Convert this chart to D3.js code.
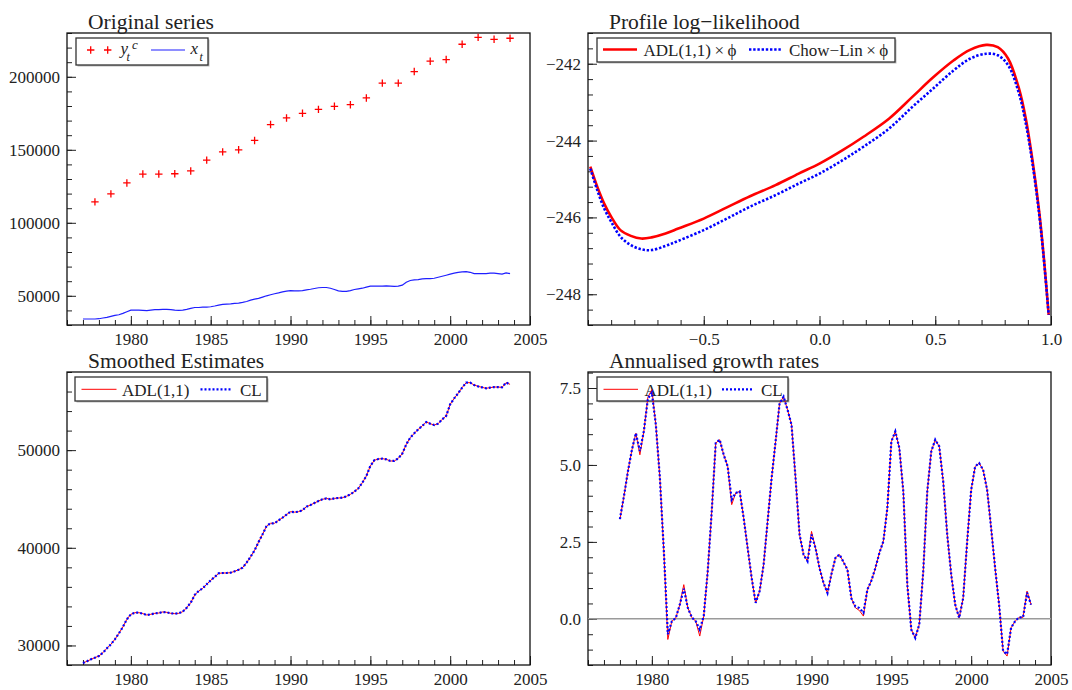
<!DOCTYPE html>
<html><head><meta charset="utf-8">
<script src="https://cdn.jsdelivr.net/npm/d3@7"></script>
<style>
body{margin:0;background:#fff}
svg{display:block}
text{font-family:"Liberation Serif","Times New Roman",serif;fill:#222}
</style>
</head><body>
<svg id="c" width="1072" height="690"></svg>
<script>
// ---------------- DATA ----------------
// Panel 1: annual y_t^c (plotted at Q4 of each year) and quarterly x_t
const annualYears = d3.range(1977, 2004);
const ycValues = [114300,119800,127300,133400,133400,133600,135500,142950,148600,150000,
  156400,167300,171800,175000,177700,179800,180900,185500,195700,195700,
  203600,210700,211800,222300,227000,225700,226400];
const quarterDates = d3.range(108).map(i => 1977 + i / 4);
const xtValues = [
  34100,34100,34100,34100, 34300,34800,35200,35900, 36600,37000,38000,39100,
  40200,40200,40200,40000, 39800,40200,40500,40500, 40700,40700,40500,40200,
  40000,40200,40700,41400, 42000,42000,42300,42300, 42500,43000,43600,44100,
  44300,44500,44800,45000, 45500,46100,47000,47700, 48200,49100,50000,50700,
  51400,52000,52700,53200, 53600,53400,53400,53600, 54100,54500,55000,55500,
  55700,55700,55200,54300, 53400,53000,53000,53600, 54300,54800,55200,55900,
  56600,56600,56600,56600, 56800,56600,56400,56600, 57300,59300,60500,60900,
  61100,61600,61800,61800, 62000,62700,63400,64100, 64800,65500,66100,66400,
  66600,66100,65200,65200, 65200,65200,65500,65500, 65200,64800,65700,65200];

// Panel 2: profile log-likelihood
const phiGrid = [-0.99,-0.96,-0.93,-0.90,-0.86,-0.815,-0.77,-0.725,-0.665,-0.61,-0.50,-0.40,
  -0.30,-0.19,-0.09,0.0,0.10,0.19,0.30,0.40,0.49,0.58,0.65,0.72,0.77,0.815,0.86,0.89,0.92,0.95,0.97,0.99];
const llADL = [-244.68,-245.2,-245.64,-245.98,-246.33,-246.48,-246.55,-246.52,-246.42,-246.29,
  -246.03,-245.74,-245.45,-245.16,-244.86,-244.6,-244.25,-243.9,-243.43,-242.87,-242.36,-241.91,
  -241.64,-241.51,-241.57,-241.87,-242.61,-243.39,-244.51,-245.9,-247.11,-248.54];
const llCL = [-244.73,-245.29,-245.77,-246.11,-246.5,-246.72,-246.83,-246.85,-246.74,-246.61,
  -246.33,-246.03,-245.72,-245.42,-245.12,-244.86,-244.51,-244.16,-243.69,-243.13,-242.65,-242.17,
  -241.87,-241.74,-241.78,-242.04,-242.74,-243.52,-244.6,-245.97,-247.15,-248.54];

// Panel 3: smoothed estimates (quarterly)
const smoothADL = [
  28205,28375,28580,28750, 28920,29260,29710,30120, 30630,31240,31890,32680,
  33190,33360,33360,33260, 33120,33190,33290,33320, 33430,33390,33290,33260,
  33290,33460,33870,34380, 35170,35580,35850,36260, 36670,37010,37390,37420,
  37420,37450,37590,37760, 37970,38480,39090,39740, 40590,41380,42230,42510,
  42510,42810,43090,43390, 43700,43650,43700,43850, 44210,44380,44590,44790,
  44960,45060,44960,45060, 45100,45130,45270,45470, 45750,46090,46670,47350,
  48375,48960,49090,49130, 49060,48890,48890,49160, 49640,50590,51280,51720,
  52130,52470,52880,52710, 52570,52710,53150,53500, 54690,55300,55820,56400,
  56910,56910,56670,56530, 56430,56330,56400,56460, 56460,56430,56910,56740];
const smoothCL = [
  28205,28375,28580,28750, 28920,29260,29710,30120, 30630,31240,31890,32680,
  33190,33360,33360,33260, 33120,33190,33290,33320, 33430,33390,33290,33260,
  33290,33460,33870,34380, 35170,35580,35850,36260, 36670,37010,37390,37420,
  37420,37450,37590,37760, 37970,38480,39090,39740, 40590,41380,42230,42510,
  42510,42810,43090,43390, 43700,43650,43700,43850, 44210,44380,44590,44790,
  44960,45060,44960,45060, 45100,45130,45270,45470, 45750,46090,46670,47350,
  48375,48960,49090,49130, 49060,48890,48890,49160, 49640,50590,51280,51720,
  52130,52470,52880,52710, 52570,52710,53150,53500, 54690,55300,55820,56400,
  56910,56910,56670,56530, 56430,56330,56400,56460, 56460,56430,56910,56740];

// Panel 4: annualised growth rates (quarterly from 1978Q1)
const growthDates = d3.range(104).map(i => 1978 + i / 4);
const growthADL = [
  3.24,3.98,4.79,5.49, 6.03,5.33,6.1,7.2, 7.45,6.3,4.6,2.2,
  -0.67,-0.08,0.03,0.46, 1.11,0.36,0.05,-0.08, -0.56,0.09,1.55,3.49,
  5.71,5.82,5.33,4.95, 3.71,4.09,4.14,3.28, 2.30,1.33,0.52,0.9,
  1.76,3.17,4.57,5.76, 7.0,7.22,6.79,6.3, 4.57,2.74,2.09,1.87,
  2.84,2.30,1.65,1.17, 0.84,1.46,1.98,2.09, 1.85,1.6,0.66,0.36,
  0.27,0.09,0.95,1.24, 1.65,2.14,2.52,3.6, 5.76,6.09,5.55,4.14,
  1.11,-0.35,-0.62,-0.18, 1.55,4.14,5.44,5.82, 5.6,4.46,2.74,1.44,
  0.46,0.03,0.68,2.52, 4.19,4.95,5.06,4.84, 4.19,2.95,1.65,0.46,
  -1.05,-1.21,-0.29,-0.08, 0.05,0.05,0.9,0.46];
const growthCL = [
  3.24,3.98,4.79,5.49, 6.03,5.45,6.1,7.15, 7.35,6.3,4.6,2.2,
  -0.5,-0.08,0.03,0.46, 0.98,0.36,0.05,-0.08, -0.35,0.09,1.55,3.49,
  5.71,5.82,5.33,4.95, 3.87,4.09,4.14,3.28, 2.30,1.33,0.52,0.9,
  1.76,3.17,4.57,5.76, 7.0,7.22,6.79,6.3, 4.57,2.74,2.09,1.87,
  2.74,2.30,1.65,1.17, 0.84,1.46,1.98,2.09, 1.85,1.6,0.66,0.4,
  0.35,0.2,0.95,1.24, 1.65,2.14,2.52,3.6, 5.76,6.09,5.55,4.14,
  1.11,-0.35,-0.62,-0.18, 1.55,4.14,5.44,5.82, 5.6,4.46,2.74,1.44,
  0.46,0.03,0.68,2.52, 4.19,4.95,5.06,4.84, 4.19,2.95,1.65,0.46,
  -1.05,-1.15,-0.29,-0.08, 0.05,0.05,0.85,0.46];

// Ticks
const yearMinor = d3.range(1976, 2006);
const yearMajor = [1980, 1985, 1990, 1995, 2000, 2005];
const p1YMajor = [50000, 100000, 150000, 200000];
const p1YMinor = d3.range(30000, 230001, 10000);
const p2XMajor = [-0.5, 0.0, 0.5, 1.0];
const p2XMinor = d3.range(-10, 11).map(i => i / 10);
const p2YMajor = [-248, -246, -244, -242];
const p2YMinor = d3.range(-2488, -2411, 4).map(v => v / 10);
const p3YMajor = [30000, 40000, 50000];
const p3YMinor = d3.range(28000, 58001, 2000);
const p4YMajor = [0, 2.5, 5.0, 7.5];
const p4YMinor = d3.range(-3, 17).map(i => i / 2);

// ---------------- DRAWING ----------------
const svg = d3.select('#c');
const L = {x0: 67, x1: 530}, R = {x0: 588, x1: 1051};
const T = {y0: 33, y1: 325}, B = {y0: 372, y1: 665};

function panel(opt) {
  const g = svg.append('g');
  const x = d3.scaleLinear().domain(opt.xDomain).range([opt.h.x0, opt.h.x1]);
  const y = d3.scaleLinear().domain(opt.yDomain).range([opt.v.y1, opt.v.y0]);
  const id = 'clip' + opt.name;
  svg.append('clipPath').attr('id', id).append('rect')
    .attr('x', opt.h.x0).attr('y', opt.v.y0)
    .attr('width', opt.h.x1 - opt.h.x0).attr('height', opt.v.y1 - opt.v.y0);
  const ax = (axis, tr) => {
    const a = g.append('g').attr('transform', tr).call(axis);
    a.select('.domain').remove();
    a.selectAll('line').attr('stroke', '#222').attr('stroke-width', 1);
    a.selectAll('text').style('font-size', '17px').attr('fill', '#222')
      .style('font-family', '"Liberation Serif","Times New Roman",serif');
    return a;
  };
  ax(d3.axisBottom(x).tickValues(opt.xMinor).tickSize(-5).tickFormat(''), `translate(0,${opt.v.y1})`);
  ax(d3.axisBottom(x).tickValues(opt.xMajor).tickSize(-9).tickPadding(8).tickFormat(opt.xFmt), `translate(0,${opt.v.y1})`);
  ax(d3.axisLeft(y).tickValues(opt.yMinor).tickSize(-5).tickFormat(''), `translate(${opt.h.x0},0)`);
  ax(d3.axisLeft(y).tickValues(opt.yMajor).tickSize(-9).tickPadding(7).tickFormat(opt.yFmt), `translate(${opt.h.x0},0)`);
  g.append('rect').attr('x', opt.h.x0).attr('y', opt.v.y0)
    .attr('width', opt.h.x1 - opt.h.x0).attr('height', opt.v.y1 - opt.v.y0)
    .attr('fill', 'none').attr('stroke', '#111').attr('stroke-width', 1.3);
  g.append('text').attr('x', opt.h.x0 + 21).attr('y', opt.v.y0 - 4)
    .style('font-size', '21.5px').text(opt.title);
  const plot = g.append('g').attr('clip-path', `url(#${id})`);
  return {g, plot, x, y};
}

function legendBox(g, x0, y0, x1, y1) {
  g.append('rect').attr('x', x0 + 1.5).attr('y', y0 + 1.5).attr('width', x1 - x0).attr('height', y1 - y0)
    .attr('fill', '#bbb');
  g.append('rect').attr('x', x0).attr('y', y0).attr('width', x1 - x0).attr('height', y1 - y0)
    .attr('fill', '#fff').attr('stroke', '#333').attr('stroke-width', 1.3);
}

// ---- Panel 1 ----
{
  const p = panel({name: 'a', h: L, v: T, xDomain: [1976, 2005], yDomain: [30000, 230000],
    xMinor: yearMinor, xMajor: yearMajor, xFmt: d3.format('d'),
    yMinor: p1YMinor, yMajor: p1YMajor, yFmt: d3.format('d'), title: 'Original series'});
  p.plot.append('path').datum(quarterDates.map((d, i) => [d, xtValues[i]]))
    .attr('fill', 'none').attr('stroke', '#1f1fff').attr('stroke-width', 1.2)
    .attr('d', d3.line().x(d => p.x(d[0])).y(d => p.y(d[1])));
  p.plot.selectAll('path.cross').data(annualYears.map((yr, i) => [yr + 0.75, ycValues[i]]))
    .join('path').attr('class', 'cross')
    .attr('transform', d => `translate(${p.x(d[0])},${p.y(d[1])})`)
    .attr('d', 'M-3.7,0H3.7M0,-3.7V3.7').attr('stroke', '#ff0000').attr('stroke-width', 1.3);
  const g = p.g;
  legendBox(g, 76, 38, 208, 65);
  [90.7, 107.7].forEach(cx => g.append('path').attr('transform', `translate(${cx},50)`)
    .attr('d', 'M-3.7,0H3.7M0,-3.7V3.7').attr('stroke', '#ff0000').attr('stroke-width', 1.3));
  g.append('text').attr('x', 120.5).attr('y', 54).style('font-size', '17px').style('font-style', 'italic').text('y');
  g.append('text').attr('x', 126.5).attr('y', 61).style('font-size', '12px').style('font-style', 'italic').text('t');
  g.append('text').attr('x', 132).attr('y', 49).style('font-size', '13px').style('font-style', 'italic').text('c');
  g.append('line').attr('x1', 151).attr('x2', 185).attr('y1', 50).attr('y2', 50)
    .attr('stroke', '#1f1fff').attr('stroke-width', 1.2);
  g.append('text').attr('x', 190.5).attr('y', 54).style('font-size', '17px').style('font-style', 'italic').text('x');
  g.append('text').attr('x', 199.5).attr('y', 61).style('font-size', '12px').style('font-style', 'italic').text('t');
}

// ---- Panel 2 ----
{
  const p = panel({name: 'b', h: R, v: T, xDomain: [-1, 1], yDomain: [-248.8, -241.2],
    xMinor: p2XMinor, xMajor: p2XMajor, xFmt: d3.format('.1f'),
    yMinor: p2YMinor, yMajor: p2YMajor, yFmt: d3.format('d'), title: 'Profile log\u2212likelihood'});
  const line = d3.line().x(d => p.x(d[0])).y(d => p.y(d[1])).curve(d3.curveCatmullRom);
  p.plot.append('path').datum(phiGrid.map((f, i) => [f, llADL[i]]))
    .attr('fill', 'none').attr('stroke', '#ff0000').attr('stroke-width', 2.6).attr('d', line);
  p.plot.append('path').datum(phiGrid.map((f, i) => [f, llCL[i]]))
    .attr('fill', 'none').attr('stroke', '#0000ff').attr('stroke-width', 2.6)
    .attr('stroke-dasharray', '2.4,1.8').attr('d', line);
  const g = p.g;
  legendBox(g, 597, 38, 895, 62);
  g.append('line').attr('x1', 603).attr('x2', 637).attr('y1', 49.5).attr('y2', 49.5)
    .attr('stroke', '#ff0000').attr('stroke-width', 2.6);
  g.append('text').attr('x', 643.5).attr('y', 56).style('font-size', '17px').text('ADL(1,1)\u2009\u00d7\u2009\u03d5');
  g.append('line').attr('x1', 749).attr('x2', 782).attr('y1', 49.5).attr('y2', 49.5)
    .attr('stroke', '#0000ff').attr('stroke-width', 2.6).attr('stroke-dasharray', '2.4,1.8');
  g.append('text').attr('x', 789).attr('y', 56).style('font-size', '17px').text('Chow\u2212Lin\u2009\u00d7\u2009\u03d5');
}

// ---- Panel 3 ----
{
  const p = panel({name: 'c', h: L, v: B, xDomain: [1976, 2005], yDomain: [28000, 58000],
    xMinor: yearMinor, xMajor: yearMajor, xFmt: d3.format('d'),
    yMinor: p3YMinor, yMajor: p3YMajor, yFmt: d3.format('d'), title: 'Smoothed Estimates'});
  const line = d3.line().x(d => p.x(d[0])).y(d => p.y(d[1]));
  p.plot.append('path').datum(quarterDates.map((d, i) => [d, smoothADL[i]]))
    .attr('fill', 'none').attr('stroke', '#ff0000').attr('stroke-width', 1).attr('d', line);
  p.plot.append('path').datum(quarterDates.map((d, i) => [d, smoothCL[i]]))
    .attr('fill', 'none').attr('stroke', '#0000ff').attr('stroke-width', 2.2)
    .attr('stroke-dasharray', '2,2').attr('d', line);
  const g = p.g;
  legendBox(g, 75, 377, 267, 401);
  g.append('line').attr('x1', 81.5).attr('x2', 116.5).attr('y1', 389.3).attr('y2', 389.3)
    .attr('stroke', '#ff0000').attr('stroke-width', 1);
  g.append('text').attr('x', 122).attr('y', 395.5).style('font-size', '17px').text('ADL(1,1)');
  g.append('line').attr('x1', 200.5).attr('x2', 232).attr('y1', 389.3).attr('y2', 389.3)
    .attr('stroke', '#0000ff').attr('stroke-width', 2.2).attr('stroke-dasharray', '2,2');
  g.append('text').attr('x', 240).attr('y', 395.5).style('font-size', '17px').text('CL');
}

// ---- Panel 4 ----
{
  const p = panel({name: 'd', h: R, v: B, xDomain: [1976, 2005], yDomain: [-1.5, 8.02],
    xMinor: yearMinor, xMajor: yearMajor, xFmt: d3.format('d'),
    yMinor: p4YMinor, yMajor: p4YMajor, yFmt: d3.format('.1f'), title: 'Annualised growth rates'});
  p.plot.append('line').attr('x1', R.x0).attr('x2', R.x1).attr('y1', p.y(0)).attr('y2', p.y(0))
    .attr('stroke', '#9a9a9a').attr('stroke-width', 1.5);
  const line = d3.line().x(d => p.x(d[0])).y(d => p.y(d[1]));
  const g = p.g;
  legendBox(g, 597, 377, 788, 401);
  g.append('line').attr('x1', 603.5).attr('x2', 638).attr('y1', 389.3).attr('y2', 389.3)
    .attr('stroke', '#ff0000').attr('stroke-width', 1);
  g.append('text').attr('x', 644.5).attr('y', 395.5).style('font-size', '17px').text('ADL(1,1)');
  g.append('line').attr('x1', 722).attr('x2', 753).attr('y1', 389.3).attr('y2', 389.3)
    .attr('stroke', '#0000ff').attr('stroke-width', 2.2).attr('stroke-dasharray', '2,2');
  g.append('text').attr('x', 761).attr('y', 395.5).style('font-size', '17px').text('CL');
  // series drawn over the legend, as in the reference
  const top = g.append('g').attr('clip-path', 'url(#clipd)');
  top.append('path').datum(growthDates.map((d, i) => [d, growthADL[i]]))
    .attr('fill', 'none').attr('stroke', '#ff0000').attr('stroke-width', 1).attr('d', line);
  top.append('path').datum(growthDates.map((d, i) => [d, growthCL[i]]))
    .attr('fill', 'none').attr('stroke', '#0000ff').attr('stroke-width', 2.2)
    .attr('stroke-dasharray', '2,2').attr('d', line);
}
</script>
</body></html>
